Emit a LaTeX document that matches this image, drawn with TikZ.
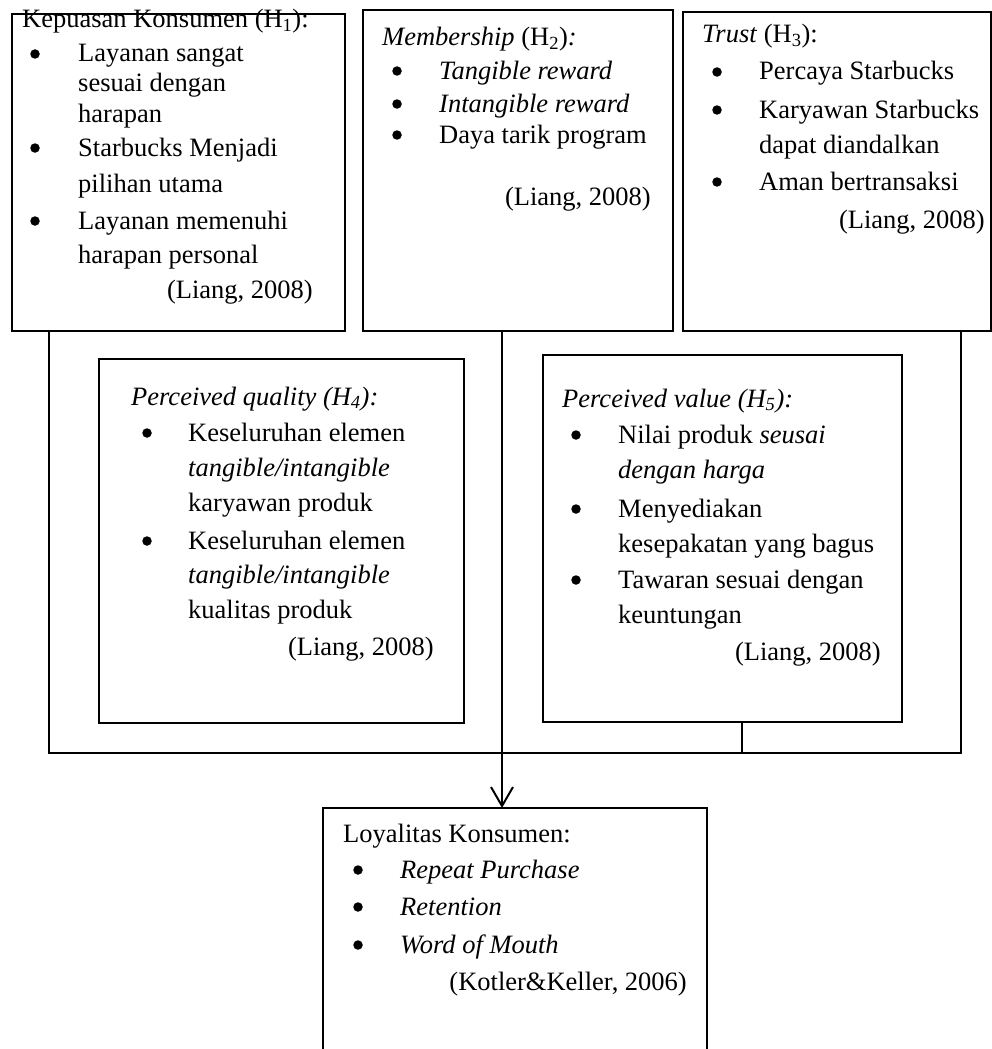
\documentclass[tikz,border=0pt]{standalone}
\usepackage{fontspec}
\setmainfont{Liberation Serif}
\usetikzlibrary{arrows.meta}
\newcommand{\fs}{\fontsize{26.5}{30}\selectfont}
\tikzset{
  box/.style={draw, line width=2pt, anchor=north west, inner sep=0pt},
  conn/.style={line width=2pt},
  txt/.style={inner sep=0pt, anchor=base west, font=\fs},
  cite/.style={inner sep=0pt, anchor=base east, font=\fs},
  bul/.style={circle, fill, inner sep=0pt, minimum size=9.5pt, yshift=8pt},
  arr/.style={conn, -{Straight Barb[length=19pt,width=22pt,line width=2pt]}}
}
\begin{document}
\begin{tikzpicture}[x=1pt,y=-1pt]
\useasboundingbox[fill=white] (0,0) rectangle (992,1049);
% boxes
\node[box, minimum width=333pt, minimum height=317pt] (b1) at (11,13) {};
\node[box, minimum width=310pt, minimum height=321pt] (b2) at (362,9) {};
\node[box, minimum width=308pt, minimum height=319pt] (b3) at (682,11) {};
\node[box, minimum width=365pt, minimum height=364pt] (b4) at (98,358) {};
\node[box, minimum width=359pt, minimum height=367pt] (b5) at (542,354) {};
\node[inner sep=0pt, anchor=north west, minimum width=384pt, minimum height=242pt] (b6) at (323,808) {};
\draw[conn] (b6.south west) -- (b6.north west) -- (b6.north east) -- (b6.south east);
% connectors
\coordinate (jl) at (49,753);
\coordinate (jr) at (961,753);
\coordinate (jm) at (502,753);
\coordinate (j5) at (742,753);
\draw[conn] (jl |- b1.south) -- (jl) -- (jr) -- (jr |- b3.south);
\draw[conn] (j5 |- b5.south) -- (j5);
\draw[arr] (jm |- b2.south) -- (jm |- b6.north);
% box 1
\node[txt] (t1h) at (22,28) {Kepuasan Konsumen (H\textsubscript{1}):};
\node[bul] (t1b1) at (35,62) {};
\node[txt] (t1a) at (78,62) {Layanan sangat};
\node[txt] (t1b) at (78,92) {sesuai dengan};
\node[txt] (t1c) at (78,122) {harapan};
\node[bul] (t1b2) at (35,156) {};
\node[txt] (t1d) at (78,156) {Starbucks Menjadi};
\node[txt] (t1e) at (78,192) {pilihan utama};
\node[bul] (t1b3) at (35,229) {};
\node[txt] (t1f) at (78,229) {Layanan memenuhi};
\node[txt] (t1g) at (78,263) {harapan personal};
\node[cite] (t1c2) at (313,298) {(Liang, 2008)};
% box 2
\node[txt] (t2h) at (382,46) {\textit{Membership} (H\textsubscript{2})\textit{:}};
\node[bul] (t2b1) at (397,79) {};
\node[txt] (t2a) at (439,79) {\textit{Tangible reward}};
\node[bul] (t2b2) at (397,112) {};
\node[txt] (t2b) at (439,112) {\textit{Intangible reward}};
\node[bul] (t2b3) at (397,143) {};
\node[txt] (t2c) at (439,143) {Daya tarik program};
\node[cite] (t2c2) at (651,205) {(Liang, 2008)};
% box 3
\node[txt] (t3h) at (702,43) {\textit{Trust} (H\textsubscript{3}):};
\node[bul] (t3b1) at (717,80) {};
\node[txt] (t3a) at (759,80) {Percaya Starbucks};
\node[bul] (t3b2) at (717,118) {};
\node[txt] (t3b) at (759,118) {Karyawan Starbucks};
\node[txt] (t3c) at (759,153) {dapat diandalkan};
\node[bul] (t3b3) at (717,190) {};
\node[txt] (t3d) at (759,190) {Aman bertransaksi};
\node[cite] (t3c2) at (985,228) {(Liang, 2008)};
% box 4
\node[txt] (t4h) at (131,405) {\textit{Perceived quality (H\textsubscript{4}):}};
\node[bul] (t4b1) at (147,441) {};
\node[txt] (t4a) at (188,441) {Keseluruhan elemen};
\node[txt] (t4b) at (188,476) {\textit{tangible/intangible}};
\node[txt] (t4c) at (188,511) {karyawan produk};
\node[bul] (t4b2) at (147,549) {};
\node[txt] (t4d) at (188,549) {Keseluruhan elemen};
\node[txt] (t4e) at (188,583) {\textit{tangible/intangible}};
\node[txt] (t4f) at (188,618) {kualitas produk};
\node[cite] (t4c2) at (434,655) {(Liang, 2008)};
% box 5
\node[txt] (t5h) at (562,407) {\textit{Perceived value (H\textsubscript{5}):}};
\node[bul] (t5b1) at (576,443) {};
\node[txt] (t5a) at (618,443) {Nilai produk \textit{seusai}};
\node[txt] (t5b) at (618,478) {\textit{dengan harga}};
\node[bul] (t5b2) at (576,517) {};
\node[txt] (t5c) at (618,517) {Menyediakan};
\node[txt] (t5d) at (618,552) {kesepakatan yang bagus};
\node[bul] (t5b3) at (576,588) {};
\node[txt] (t5e) at (618,588) {Tawaran sesuai dengan};
\node[txt] (t5f) at (618,623) {keuntungan};
\node[cite] (t5c2) at (881,660) {(Liang, 2008)};
% box 6
\node[txt] (t6h) at (343,842) {Loyalitas Konsumen:};
\node[bul] (t6b1) at (358,878) {};
\node[txt] (t6a) at (400,878) {\textit{Repeat Purchase}};
\node[bul] (t6b2) at (358,915) {};
\node[txt] (t6b) at (400,915) {\textit{Retention}};
\node[bul] (t6b3) at (358,953) {};
\node[txt] (t6c) at (400,953) {\textit{Word of Mouth}};
\node[cite] (t6c2) at (687,990) {(Kotler\&Keller, 2006)};
\end{tikzpicture}
\end{document}
